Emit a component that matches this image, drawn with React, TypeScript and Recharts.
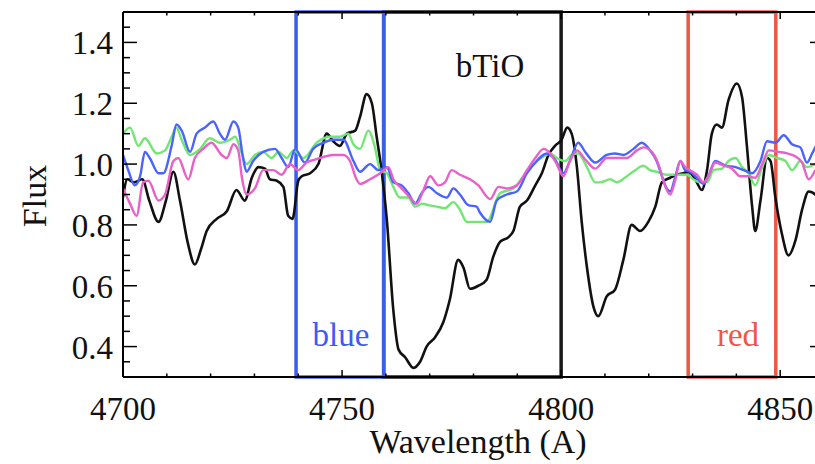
import React from 'react';
import { LineChart, Line, XAxis, YAxis, ReferenceArea } from 'recharts';

const FONT = '"Liberation Serif", "Times New Roman", "DejaVu Serif", serif';

// ---- axes / ticks ----
const xDomain = [4700, 4860];
const yDomain = [0.3, 1.5];
const xTicks = [4700, 4710, 4720, 4730, 4740, 4750, 4760, 4770, 4780, 4790, 4800, 4810, 4820, 4830, 4840, 4850];
const xMajor = [4700, 4750, 4800, 4850];
const yTicks = [0.35, 0.4, 0.45, 0.5, 0.55, 0.6, 0.65, 0.7, 0.75, 0.8, 0.85, 0.9, 0.95, 1.0, 1.05, 1.1, 1.15, 1.2, 1.25, 1.3, 1.35, 1.4, 1.45];
const yMajor = [0.4, 0.6, 0.8, 1.0, 1.2, 1.4];

// ---- index windows (Angstrom) ----
const blueWindow = [4739.5, 4759.5];
const tioWindow = [4759.5, 4800];
const redWindow = [4829, 4849];

// ---- spectra ----
const blackWave = [4700, 4701.0, 4702.5, 4704.4, 4706, 4708.1, 4709.8, 4711.5, 4713, 4714.8, 4716.4, 4717.8, 4719.1, 4721.4, 4723.7, 4725.9, 4727.8, 4729.4, 4730.9, 4732.4, 4733.5, 4735.1, 4736.6, 4737.7, 4738.7, 4740.0, 4740.8, 4742.7, 4744.6, 4746.5, 4748.0, 4749.5, 4751.1, 4753.0, 4754.1, 4755.6, 4756.8, 4757.9, 4759.0, 4760.2, 4761.7, 4762.9, 4764.4, 4766.3, 4767.8, 4769.3, 4771.2, 4773.1, 4774.6, 4776.5, 4777.7, 4779.2, 4781.1, 4783.0, 4784.5, 4786.1, 4788.0, 4789.1, 4790.6, 4792.2, 4794.1, 4795.6, 4797.1, 4798.6, 4800.1, 4801.4, 4802.4, 4803.6, 4804.7, 4805.9, 4807.4, 4808.5, 4810.4, 4812.3, 4814.2, 4816.1, 4818.0, 4819.9, 4821.5, 4823.0, 4824.9, 4826.4, 4827.9, 4829.1, 4830.6, 4832.1, 4833.3, 4834.4, 4835.5, 4836.7, 4838.2, 4840.1, 4841.3, 4842.4, 4843.6, 4844.3, 4845.5, 4847.0, 4847.8, 4848.9, 4850.4, 4851.9, 4853.5, 4855.0, 4856.5, 4858.0, 4859.5];
const blackFlux = [0.89, 0.95, 0.94, 0.95, 0.88, 0.81, 0.88, 0.975, 0.88, 0.74, 0.67, 0.72, 0.78, 0.82, 0.845, 0.915, 0.88, 0.955, 0.99, 0.985, 0.95, 0.945, 0.925, 0.83, 0.82, 0.945, 0.96, 0.97, 1.0, 1.10, 1.075, 1.06, 1.10, 1.11, 1.155, 1.23, 1.20, 1.09, 0.98, 0.82, 0.52, 0.39, 0.365, 0.33, 0.35, 0.40, 0.43, 0.48, 0.555, 0.685, 0.66, 0.59, 0.60, 0.62, 0.695, 0.745, 0.76, 0.78, 0.86, 0.88, 0.93, 0.97, 1.03, 1.06, 1.08, 1.12, 1.10, 0.99, 0.81, 0.66, 0.53, 0.50, 0.565, 0.587, 0.685, 0.80, 0.78, 0.81, 0.86, 0.94, 0.955, 0.965, 0.97, 0.975, 0.95, 0.915, 0.98, 1.10, 1.13, 1.12, 1.21, 1.265, 1.22, 1.06, 0.86, 0.78, 0.88, 1.02, 1.01, 0.89, 0.77, 0.70, 0.75, 0.85, 0.91, 0.90, 0.86];

const blueWave = [4700, 4701.2, 4702.7, 4703.9, 4705.0, 4706.1, 4708.1, 4709.2, 4711.1, 4712.2, 4713.4, 4715.3, 4716.8, 4718.7, 4720.6, 4722.1, 4723.3, 4725.2, 4726.3, 4727.4, 4728.2, 4729.7, 4732.0, 4734.7, 4736.2, 4737.7, 4739.3, 4741.5, 4743.4, 4745.7, 4748.0, 4750.3, 4752.6, 4754.1, 4756.4, 4758.3, 4760.2, 4761.7, 4763.6, 4765.1, 4766.7, 4768.2, 4769.7, 4771.6, 4773.9, 4775.4, 4776.9, 4778.8, 4780.7, 4781.5, 4783.8, 4785.3, 4787.6, 4789.9, 4792.2, 4794.4, 4796.7, 4798.6, 4800.5, 4802.0, 4803.9, 4805.5, 4807.8, 4810.4, 4812.3, 4814.2, 4816.5, 4818.4, 4820.3, 4821.8, 4823.0, 4824.1, 4824.9, 4826.0, 4827.2, 4828.3, 4829.4, 4831.0, 4832.5, 4833.6, 4835.2, 4837.5, 4839.8, 4841.7, 4843.6, 4845.5, 4847.0, 4848.9, 4850.8, 4852.7, 4854.6, 4856.1, 4857.3, 4858.5];
const blueFlux = [1.03, 0.98, 0.93, 0.96, 1.04, 1.02, 0.97, 0.97, 1.06, 1.13, 1.11, 1.04, 1.10, 1.12, 1.14, 1.10, 1.08, 1.14, 1.12, 1.02, 0.975, 1.01, 1.04, 1.05, 1.02, 0.99, 1.05, 1.005, 1.05, 1.07, 1.08, 1.08, 1.01, 0.975, 1.0, 0.98, 0.99, 0.94, 0.93, 0.905, 0.87, 0.905, 0.925, 0.905, 0.89, 0.92, 0.90, 0.865, 0.86, 0.84, 0.81, 0.88, 0.90, 0.91, 0.97, 1.01, 1.035, 1.015, 0.97, 1.01, 1.07, 1.04, 1.005, 1.03, 1.035, 1.03, 1.05, 1.07, 1.045, 1.01, 0.96, 0.92, 0.91, 0.955, 1.01, 0.98, 0.975, 0.955, 0.935, 0.96, 1.01, 0.995, 0.99, 0.98, 0.97, 1.01, 1.075, 1.07, 1.095, 1.065, 1.055, 1.005, 1.035, 1.07];

const greenWave = [4700, 4701.6, 4703.5, 4705.0, 4707.7, 4709.6, 4711.1, 4712.2, 4713.4, 4715.3, 4717.6, 4719.8, 4722.1, 4724.4, 4725.6, 4727.0, 4728.2, 4730.1, 4732.0, 4733.9, 4735.5, 4737.4, 4738.9, 4741.2, 4744.2, 4747.2, 4749.5, 4751.4, 4752.6, 4754.1, 4756.0, 4757.5, 4758.7, 4760.2, 4761.7, 4763.2, 4765.1, 4766.7, 4768.2, 4769.7, 4771.6, 4773.5, 4775.4, 4776.9, 4778.5, 4780.7, 4783.0, 4786.1, 4789.1, 4791.4, 4793.7, 4796.0, 4797.5, 4799.0, 4800.9, 4802.4, 4803.9, 4805.9, 4807.8, 4808.9, 4811.2, 4812.7, 4815.0, 4816.9, 4818.8, 4820.3, 4821.8, 4824.1, 4826.4, 4828.7, 4830.2, 4831.7, 4833.3, 4834.8, 4836.7, 4838.2, 4839.8, 4841.3, 4842.8, 4844.3, 4845.9, 4847.4, 4849.3, 4851.2, 4852.7, 4854.6, 4856.1, 4858.0];
const greenFlux = [1.10, 1.12, 1.06, 1.085, 1.035, 1.045, 1.09, 1.12, 1.08, 1.03, 1.05, 1.085, 1.07, 1.08, 1.09, 1.04, 1.0, 1.03, 1.04, 1.02, 1.04, 1.02, 1.045, 1.02, 1.07, 1.09, 1.09, 1.10, 1.065, 1.05, 1.11, 1.055, 0.98, 0.97, 0.925, 0.89, 0.89, 0.86, 0.87, 0.865, 0.86, 0.855, 0.875, 0.85, 0.81, 0.81, 0.81, 0.905, 0.92, 0.96, 1.0, 1.025, 1.035, 1.02, 1.01, 1.03, 1.035, 0.99, 0.94, 0.94, 0.95, 0.94, 0.96, 0.98, 0.995, 0.98, 0.975, 0.965, 0.965, 0.965, 0.95, 0.94, 0.94, 0.98, 0.985, 1.01, 1.02, 0.99, 0.97, 0.93, 0.99, 1.03, 1.02, 1.01, 0.98, 1.01, 0.99, 1.0];

const pinkWave = [4700, 4701.6, 4703.1, 4704.6, 4705.8, 4708.1, 4709.6, 4711.5, 4712.6, 4714.9, 4716.4, 4718.3, 4720.2, 4722.5, 4723.7, 4725.2, 4726.3, 4727.2, 4728.2, 4730.1, 4732.0, 4734.3, 4736.2, 4738.1, 4740.0, 4741.9, 4743.8, 4746.1, 4748.0, 4750.3, 4751.8, 4753.3, 4754.1, 4756.4, 4758.7, 4760.6, 4761.7, 4763.6, 4765.5, 4767.0, 4768.6, 4770.1, 4772.0, 4773.5, 4775.0, 4776.9, 4779.2, 4781.1, 4783.8, 4785.7, 4787.6, 4789.9, 4792.2, 4794.1, 4796.0, 4797.5, 4799.0, 4800.5, 4802.0, 4803.6, 4805.5, 4807.8, 4810.4, 4812.7, 4815.0, 4817.3, 4818.8, 4820.7, 4822.2, 4823.7, 4824.9, 4826.0, 4827.2, 4828.3, 4829.4, 4831.0, 4832.5, 4833.6, 4835.2, 4837.1, 4839.0, 4840.9, 4842.8, 4844.3, 4845.9, 4847.4, 4849.7, 4851.6, 4853.5, 4855.0, 4856.5, 4858.0];
const pinkFlux = [0.92, 0.87, 0.83, 0.94, 0.945, 0.88, 0.90, 1.01, 1.02, 0.95, 1.02, 1.05, 1.07, 1.03, 1.02, 1.065, 1.045, 0.95, 0.90, 0.92, 0.98, 0.98, 0.965, 1.0, 0.98, 1.005, 1.015, 1.025, 1.03, 1.03, 1.01, 0.95, 0.935, 0.95, 0.97, 0.99, 0.95, 0.92, 0.89, 0.87, 0.915, 0.96, 0.93, 0.94, 0.98, 0.965, 0.95, 0.93, 0.885, 0.925, 0.92, 0.93, 0.98, 1.02, 1.05, 1.035, 1.0, 0.96, 1.01, 1.045, 1.015, 0.985, 1.02, 1.02, 1.02, 1.045, 1.055, 1.04, 1.0, 0.93, 0.90, 0.945, 1.01, 0.99, 0.98, 0.965, 0.94, 0.96, 1.005, 0.995, 0.985, 0.96, 0.96, 0.955, 1.0, 1.045, 1.04, 1.035, 1.025, 1.005, 0.95, 0.98];

const toSeries = (w: number[], f: number[]) => w.map((x, i) => ({ w: x, f: f[i] }));
const blackData = toSeries(blackWave, blackFlux);
const blueData = toSeries(blueWave, blueFlux);
const greenData = toSeries(greenWave, greenFlux);
const pinkData = toSeries(pinkWave, pinkFlux);

const isIn = (v: number, arr: number[]) => arr.some((m) => Math.abs(m - v) < 1e-6);

const BottomTick = (props: any) => {
  const { x, y, payload } = props;
  const v = payload.value;
  const major = isIn(v, xMajor);
  return (
    <g>
      <line x1={x} x2={x} y1={y} y2={y - (major ? 7 : 3.5)} stroke="#000" strokeWidth={1.5} />
      {major && (
        <text x={x} y={y + 43} textAnchor="middle" fontFamily={FONT} fontSize={33} fill="#111">
          {v}
        </text>
      )}
    </g>
  );
};

const TopTick = (props: any) => {
  const { x, y, payload } = props;
  const major = isIn(payload.value, xMajor);
  return <line x1={x} x2={x} y1={y} y2={y + (major ? 7 : 3.5)} stroke="#000" strokeWidth={1.5} />;
};

const LeftTick = (props: any) => {
  const { x, y, payload } = props;
  const v = payload.value;
  const major = isIn(v, yMajor);
  return (
    <g>
      <line x1={x} x2={x + (major ? 14 : 7)} y1={y} y2={y} stroke="#000" strokeWidth={1.5} />
      {major && (
        <text x={x - 10} y={y + 12} textAnchor="end" fontFamily={FONT} fontSize={33} fill="#111">
          {v.toFixed(1)}
        </text>
      )}
    </g>
  );
};

const RightTick = (props: any) => {
  const { x, y, payload } = props;
  const major = isIn(payload.value, yMajor);
  return <line x1={x} x2={x - (major ? 14 : 7)} y1={y} y2={y} stroke="#000" strokeWidth={1.5} />;
};

export default function App() {
  return (
    <div style={{ position: 'absolute', left: 0, top: 0, width: 815, height: 464, overflow: 'hidden', background: '#fff' }}>
      <LineChart width={830} height={464} margin={{ top: 0, right: 0, bottom: 0, left: 0 }}>
        <XAxis
          dataKey="w"
          type="number"
          domain={xDomain}
          ticks={xTicks}
          interval={0}
          allowDataOverflow
          height={87}
          tickSize={0}
          tickMargin={0}
          tick={<BottomTick />}
          axisLine={{ stroke: '#000', strokeWidth: 2 }}
        />
        <XAxis
          xAxisId="top"
          orientation="top"
          dataKey="w"
          type="number"
          domain={xDomain}
          ticks={xTicks}
          interval={0}
          allowDataOverflow
          height={12}
          tickSize={0}
          tickMargin={0}
          tick={<TopTick />}
          axisLine={{ stroke: '#000', strokeWidth: 2 }}
        />
        <YAxis
          type="number"
          domain={yDomain}
          ticks={yTicks}
          interval={0}
          allowDataOverflow
          width={123}
          tickSize={0}
          tickMargin={0}
          tick={<LeftTick />}
          axisLine={{ stroke: '#000', strokeWidth: 2 }}
        />
        <YAxis
          yAxisId="r"
          orientation="right"
          type="number"
          domain={yDomain}
          ticks={yTicks}
          interval={0}
          allowDataOverflow
          width={6}
          tickSize={0}
          tickMargin={0}
          tick={<RightTick />}
          axisLine={{ stroke: '#000', strokeWidth: 2 }}
        />
        <Line data={blackData} dataKey="f" type="monotone" stroke="#111111" strokeWidth={2.6} dot={false} isAnimationActive={false} />
        <Line data={greenData} dataKey="f" type="monotone" stroke="#72e672" strokeWidth={2.4} dot={false} isAnimationActive={false} />
        <Line data={blueData} dataKey="f" type="monotone" stroke="#4a63ff" strokeWidth={2.4} dot={false} isAnimationActive={false} />
        <Line data={pinkData} dataKey="f" type="monotone" stroke="#e860c8" strokeWidth={2.4} dot={false} isAnimationActive={false} />
        <ReferenceArea x1={tioWindow[0]} x2={tioWindow[1]} y1={yDomain[0]} y2={yDomain[1]} fill="none" fillOpacity={0} stroke="#1a1a1a" strokeWidth={3.5} ifOverflow="visible" />
        <ReferenceArea x1={blueWindow[0]} x2={blueWindow[1]} y1={yDomain[0]} y2={yDomain[1]} fill="none" fillOpacity={0} stroke="#3b5cf2" strokeWidth={3.5} ifOverflow="visible" />
        <ReferenceArea x1={redWindow[0]} x2={redWindow[1]} y1={yDomain[0]} y2={yDomain[1]} fill="none" fillOpacity={0} stroke="#ee5645" strokeWidth={3.5} ifOverflow="visible" />
      </LineChart>
      <svg width={815} height={464} style={{ position: 'absolute', left: 0, top: 0, pointerEvents: 'none' }}>
        <text x={46} y={196} transform="rotate(-90 46 196)" textAnchor="middle" fontFamily={FONT} fontSize={34} fill="#111">
          Flux
        </text>
        <text x={478} y={453} textAnchor="middle" fontFamily={FONT} fontSize={34} fill="#111">
          Wavelength (A)
        </text>
        <text x={490} y={77} textAnchor="middle" fontFamily={FONT} fontSize={33} fill="#111">
          bTiO
        </text>
        <text x={341} y={346} textAnchor="middle" fontFamily={FONT} fontSize={33} fill="#3b5cf2">
          blue
        </text>
        <text x={738} y={346} textAnchor="middle" fontFamily={FONT} fontSize={33} fill="#ee5645">
          red
        </text>
      </svg>
    </div>
  );
}
